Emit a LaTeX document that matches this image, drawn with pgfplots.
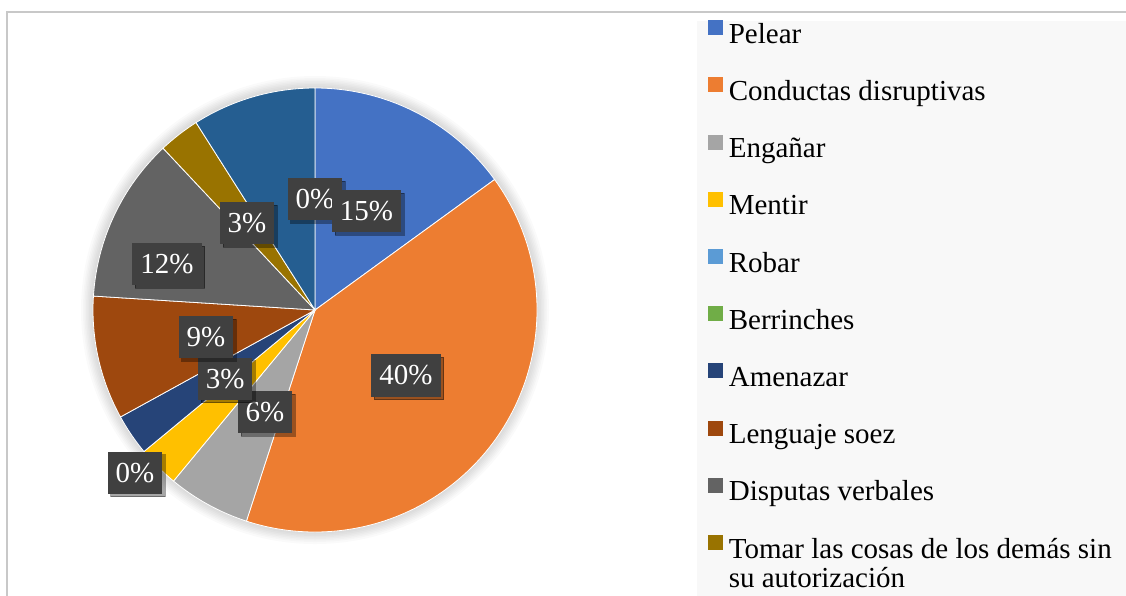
\documentclass[border=0pt]{standalone}
\usepackage{pgfplots}
\pgfplotsset{compat=1.18}
\usepackage{fontspec}
\setmainfont{Liberation Serif}
\usetikzlibrary{shadows}

\definecolor{c1}{HTML}{4472C4}
\definecolor{c2}{HTML}{ED7D31}
\definecolor{c3}{HTML}{A5A5A5}
\definecolor{c4}{HTML}{FFC000}
\definecolor{c5}{HTML}{5B9BD5}
\definecolor{c6}{HTML}{70AD47}
\definecolor{c7}{HTML}{264478}
\definecolor{c8}{HTML}{9E480E}
\definecolor{c9}{HTML}{636363}
\definecolor{c10}{HTML}{997300}
\definecolor{c11}{HTML}{255E91}
\definecolor{c12}{HTML}{43682B}
\definecolor{lblbox}{HTML}{404040}
\definecolor{frame}{HTML}{C8C8C8}
\definecolor{legbg}{HTML}{F8F8F8}

% \pieslice{cumulative start in %}{value in %}{colour}
\newcommand{\pieslice}[3]{%
  \fill[#3, draw=white, line width=0.8pt] (axis cs:0,0) -- ++({90-3.6*#1}:222pt)
    arc[start angle={90-3.6*#1}, end angle={90-3.6*(#1+#2)}, radius=222pt] -- cycle;}

\begin{document}
\begin{tikzpicture}
\path[use as bounding box] (0,0) rectangle (1126pt,-595pt);
\clip (0,0) rectangle (1126pt,-595pt);
\draw[frame, line width=2pt] (7pt,-620pt) -- (7pt,-12.3pt) -- (1140pt,-12.3pt);
\fill[legbg] (697pt,-21pt) rectangle (1140pt,-620pt);

\begin{axis}[
  at={(315pt,-310pt)}, anchor=center,
  scale only axis, width=444pt, height=444pt,
  xmin=-1, xmax=1, ymin=-1, ymax=1,
  hide axis, clip=false,
  legend image code/.code={\fill[#1, draw=none] (0pt,1pt) rectangle (15pt,16pt);},
  legend style={
    at={(axis cs:1.755,1.315)}, anchor=north west,
    draw=none, fill=none,
    font=\fontsize{29}{29}\selectfont,
    row sep=27.2pt, column sep=6pt,
    nodes={inner sep=0pt, text height=21pt, text depth=7pt},
    cells={anchor=west},
  },
]
% soft glow around the pie
\pgfplotsinvokeforeach{223,224.5,226,227.5,229,230.5,232,234}{
  \fill[black, opacity=0.018] (axis cs:0,0) circle[radius=#1pt];
}
% slices: start, value
\pieslice{0}{15}{c1}
\pieslice{15}{40}{c2}
\pieslice{55}{6}{c3}
\pieslice{61}{3}{c4}
\pieslice{64}{3}{c7}
\pieslice{67}{9}{c8}
\pieslice{76}{12}{c9}
\pieslice{88}{3}{c10}
\pieslice{91}{9}{c11}

% data labels
\addplot[forget plot, only marks, mark=none,
  point meta=explicit symbolic,
  nodes near coords={\pgfplotspointmeta\%},
  nodes near coords style={anchor=center, fill=lblbox, text=white,
    font=\fontsize{29}{29}\selectfont,
    inner xsep=8pt, minimum height=42pt, text height=20pt, text depth=1pt,
    drop shadow={shadow xshift=3pt, shadow yshift=-3pt, opacity=0.35, fill=black}},
] table[meta=label] {
x      y      label
0      0.498  0
0.232  0.444  15
0.410  -0.295 40
-0.225 -0.459 6
-0.405 -0.309 3
-0.491 -0.122 9
-0.811 -0.732 0
-0.667 0.205  12
-0.306 0.392  3
};

\addlegendimage{fill=c1}\addlegendentry{Pelear}
\addlegendimage{fill=c2}\addlegendentry{Conductas disruptivas}
\addlegendimage{fill=c3}\addlegendentry{Engañar}
\addlegendimage{fill=c4}\addlegendentry{Mentir}
\addlegendimage{fill=c5}\addlegendentry{Robar}
\addlegendimage{fill=c6}\addlegendentry{Berrinches}
\addlegendimage{fill=c7}\addlegendentry{Amenazar}
\addlegendimage{fill=c8}\addlegendentry{Lenguaje soez}
\addlegendimage{fill=c9}\addlegendentry{Disputas verbales}
\addlegendimage{fill=c10}\addlegendentry{\begin{tabular}[t]{@{}l@{}}Tomar las cosas de los demás sin\\su autorización\end{tabular}}
\end{axis}
\end{tikzpicture}
\end{document}
